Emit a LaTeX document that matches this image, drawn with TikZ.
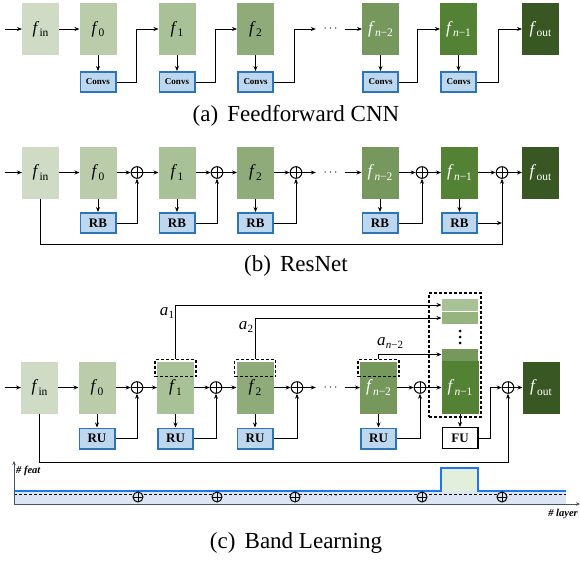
\documentclass[tikz,border=0pt]{standalone}
\usepackage{fontspec}
\setmainfont{Liberation Serif}
\usetikzlibrary{arrows.meta}

\definecolor{gin}{HTML}{CFDBC5}
\definecolor{gzero}{HTML}{BACCAA}
\definecolor{gone}{HTML}{A9C196}
\definecolor{gtwo}{HTML}{8FAB7A}
\definecolor{gmid}{HTML}{96B47D}
\definecolor{gntwo}{HTML}{76985C}
\definecolor{gnone}{HTML}{548235}
\definecolor{gout}{HTML}{385723}
\definecolor{bborder}{HTML}{2E75B6}
\definecolor{bfill}{HTML}{BDD7EE}
\definecolor{bandline}{HTML}{1F75F0}
\definecolor{bandfill}{HTML}{DCE6F2}
\definecolor{bandgreen}{HTML}{E2EFDA}
\definecolor{axiscol}{HTML}{44546A}

% feature-map label f_sub with an upright or mixed subscript
\newcommand\fmap[1]{\textit{f}\kern0.3pt\raisebox{-3.5pt}{\fontsize{11.5}{11.5}\selectfont #1}}
\newcommand\amap[1]{\textit{a}\kern0.3pt\raisebox{-3.5pt}{\fontsize{11}{11}\selectfont #1}}

\tikzset{
  fbox/.style={minimum width=37pt, minimum height=52pt, inner sep=0pt, outer sep=0pt,
    font=\fontsize{17}{17}\selectfont},
  wtext/.style={text=white},
  subbox/.style={draw=bborder, line width=1.6pt, fill=bfill, minimum width=35.4pt,
    minimum height=20.4pt, inner sep=0pt, outer sep=0.8pt},
  fubox/.style={draw=black, line width=1.1pt, fill=white, minimum width=35.9pt,
    minimum height=20.9pt, inner sep=0pt, outer sep=0.55pt,
    font=\fontsize{13}{13}\selectfont\bfseries},
  conn/.style={line width=1pt},
  arr/.style={conn, -{Stealth[length=5pt,width=4pt]}},
  sumnode/.style={circle, draw, line width=1pt, minimum size=11.6pt, inner sep=0pt,
    path picture={\draw[line width=1pt] (path picture bounding box.north) -- (path picture bounding box.south)
      (path picture bounding box.west) -- (path picture bounding box.east);}},
  smallsum/.style={sumnode, minimum size=10pt},
  dotsnode/.style={minimum width=29pt, inner sep=0pt, font=\fontsize{12}{12}\selectfont},
  dashbox/.style={draw, line width=1.1pt, dash pattern=on 3pt off 2pt, inner sep=0pt},
  blk/.style={minimum width=37pt, inner sep=0pt, outer sep=0pt, draw=white, line width=0.7pt},
  caption/.style={font=\fontsize{23}{23}\selectfont},
  axlabel/.style={font=\fontsize{10.5}{10.5}\selectfont\bfseries\itshape},
}

\begin{document}
\begin{tikzpicture}[x=1pt, y=-1pt]
\useasboundingbox (0,0) rectangle (580,560);

% ---------------- (a) feedforward CNN ----------------
\coordinate (ast) at (5,29);
\node[fbox, fill=gin]   (ain)  at (40.5,29)  {\fmap{in}};
\node[fbox, fill=gzero] (a0)   at (98,29)    {\fmap{0}};
\node[fbox, fill=gone]  (a1)   at (177,29)   {\fmap{1}};
\node[fbox, fill=gtwo]  (a2)   at (255.5,29) {\fmap{2}};
\node[dotsnode]         (adots) at (330.5,29) {$\cdots$};
\node[fbox, fill=gntwo, wtext] (an2) at (380.5,29) {\fmap{\textit{n}−2}};
\node[fbox, fill=gnone, wtext] (an1) at (458.5,29) {\fmap{\textit{n}−1}};
\node[fbox, fill=gout, wtext]  (aout) at (540.5,29) {\fmap{out}};
\foreach \n/\x in {0/98, 1/177, 2/255.5, n2/380.5, n1/458.5}
  \node[subbox, font=\fontsize{9}{9}\selectfont\bfseries] (ac\n) at (\x,82) {Convs};

\draw[arr] (ast) -- (ain);
\draw[arr] (ain) -- (a0);
\foreach \n in {0,1,2,n2,n1} \draw[arr] (a\n) -- (ac\n);
\draw[arr] (ac0.east) -- ++(20,0) |- (a1.west);
\draw[arr] (ac1.east) -- ++(20,0) |- (a2.west);
\draw[arr] (ac2.east) -- ++(20,0) |- (adots.west);
\draw[arr] (adots.east) -- (an2.west);
\draw[arr] (acn2.east) -- ++(18,0) |- (an1.west);
\draw[arr] (acn1.east) -- ++(21,0) |- (aout.west);

\node[caption] (capa) at (296,116) {(a)\hspace{0.4em}Feedforward CNN};

% ---------------- (b) ResNet ----------------
\coordinate (bst) at (5,172.5);
\node[fbox, fill=gin]   (bin)  at (40.5,172.5)  {\fmap{in}};
\node[fbox, fill=gzero] (b0)   at (98,172.5)    {\fmap{0}};
\node[fbox, fill=gone]  (b1)   at (177,172.5)   {\fmap{1}};
\node[fbox, fill=gtwo]  (b2)   at (255.5,172.5) {\fmap{2}};
\node[dotsnode]         (bdots) at (330.5,172.5) {$\cdots$};
\node[fbox, fill=gntwo, wtext] (bn2) at (380,172.5) {\fmap{\textit{n}−2}};
\node[fbox, fill=gnone, wtext] (bn1) at (459.5,172.5) {\fmap{\textit{n}−1}};
\node[fbox, fill=gout, wtext]  (bout) at (540.5,172.5) {\fmap{out}};
\foreach \n/\x in {0/98, 1/177, 2/255.5, n2/380, n1/459.5}
  \node[subbox, font=\fontsize{13}{13}\selectfont\bfseries] (br\n) at (\x,223) {RB};
\foreach \n/\x in {0/137, 1/217, 2/296, n2/422, n1/502}
  \node[sumnode] (bs\n) at (\x,172.5) {};
\coordinate (bjoin) at (502,223);
\coordinate (bskip) at (502,244);

\draw[arr] (bst) -- (bin);
\draw[arr] (bin) -- (b0);
\draw[arr] (b0) -- (bs0);  \draw[arr] (bs0) -- (b1);
\draw[arr] (b1) -- (bs1);  \draw[arr] (bs1) -- (b2);
\draw[arr] (b2) -- (bs2);  \draw[arr] (bs2) -- (bdots.west);
\draw[arr] (bdots.east) -- (bn2.west);
\draw[arr] (bn2) -- (bsn2); \draw[arr] (bsn2) -- (bn1);
\draw[arr] (bn1) -- (bsn1); \draw[arr] (bsn1) -- (bout);
\foreach \n in {0,1,2,n2,n1} \draw[arr] (b\n) -- (br\n);
\foreach \n in {0,1,2,n2} \draw[arr] (br\n.east) -| (bs\n.south);
\draw[arr] (brn1.east) -- (bjoin);
\draw[arr] (bin.south) |- (bskip) -- (bsn1.south);

\node[caption] (capb) at (296,266) {(b)\hspace{0.4em}ResNet};

% ---------------- (c) Band Learning ----------------
\coordinate (cst) at (5,387.5);
\node[fbox, fill=gin]   (cin)  at (39.5,387.5)  {\fmap{in}};
\node[fbox, fill=gzero] (c0)   at (97,387.5)    {\fmap{0}};
\node[fbox, fill=gone]  (c1)   at (175.5,387.5) {\fmap{1}};
\node[fbox, fill=gtwo]  (c2)   at (255,387.5)   {\fmap{2}};
\node[dotsnode]         (cdots) at (330.5,387.5) {$\cdots$};
\node[fbox, fill=gntwo, wtext] (cn2) at (378.5,387.5) {\fmap{\textit{n}−2}};
\node[fbox, fill=gout, wtext]  (cout) at (541,387.5) {\fmap{out}};
\foreach \n/\x in {0/97, 1/175.5, 2/255, n2/378.5}
  \node[subbox, font=\fontsize{13}{13}\selectfont\bfseries] (cr\n) at (\x,438.5) {RU};
\foreach \n/\x in {0/137, 1/216, 2/297, n2/420, n1/508}
  \node[sumnode] (cs\n) at (\x,387.5) {};

% band stack of f_{n-1}
\node[blk, fill=gone,  minimum height=13.5pt] (blk1) at (460,305)   {};
\node[blk, fill=gmid,  minimum height=12.5pt] (blk2) at (460,318)   {};
\node[blk, fill=gntwo, minimum height=13pt]   (blk3) at (460,354.5) {};
\node[fbox, fill=gnone, wtext, minimum height=53pt] (cn1) at (460,387.5) {\fmap{\textit{n}−1}};
\foreach \y in {331,337,343} \fill (460,\y) circle (1.5pt);
\node[dashbox, minimum width=52pt, minimum height=124pt] (stack) at (455,355) {};

% dashed bands on top of the feature maps
\node[dashbox, minimum width=41pt, minimum height=17pt] (d1) at ([yshift=-6.5pt]c1.north) {};
\node[dashbox, minimum width=41pt, minimum height=17pt] (d2) at ([yshift=-6.5pt]c2.north) {};
\node[dashbox, minimum width=41pt, minimum height=17pt] (dn2) at ([yshift=-6.5pt]cn2.north) {};

\draw[arr] (d1.north) |- (blk1.west);
\draw[arr] (d2.north) |- (blk2.west);
\draw[arr] (dn2.north) |- (blk3.west);
\node[font=\fontsize{17}{17}\selectfont] (la1) at (167,313)  {\amap{1}};
\node[font=\fontsize{17}{17}\selectfont] (la2) at (246,327)  {\amap{2}};
\node[font=\fontsize{17}{17}\selectfont] (lan) at (390,343)  {\amap{\textit{n}−2}};

\node[fubox] (fu) at (460,438) {FU};
\coordinate (cskip) at (508,462);

\draw[arr] (cst) -- (cin);
\draw[arr] (cin) -- (c0);
\draw[arr] (c0) -- (cs0);  \draw[arr] (cs0) -- (c1);
\draw[arr] (c1) -- (cs1);  \draw[arr] (cs1) -- (c2);
\draw[arr] (c2) -- (cs2);  \draw[arr] (cs2) -- (cdots.west);
\draw[arr] (cdots.east) -- (cn2.west);
\draw[arr] (cn2) -- (csn2); \draw[arr] (csn2) -- (cn1);
\draw[arr] (csn1) -- (cout);
\foreach \n in {0,1,2,n2} \draw[arr] (c\n) -- (cr\n);
\foreach \n in {0,1,2,n2} \draw[arr] (cr\n.east) -| (cs\n.south);
\draw[arr] (cn1) -- (fu);
\draw[arr] (fu.east) -- ++(12,0) |- (csn1.west);
\draw[arr] (cin.south) |- (cskip) -- (csn1.south);

% band profile: number of features per layer
\fill[bandfill] (14,491) rectangle (566,504);
\fill[bandgreen] (441,468) rectangle (478,491);
\draw[line width=0.8pt, dash pattern=on 3pt off 2pt] (14,494) -- (566,494);
\draw[bandline, line width=1.6pt] (14,491) -- (441,491) -- (441,468) -- (478,468) -- (478,491) -- (566,491);
\draw[axiscol, line width=1pt, -{Stealth[length=4pt,width=3.5pt]}] (14,504) -- (14,461);
\draw[axiscol, line width=1pt, -{Stealth[length=4pt,width=3.5pt]}] (14,504) -- (580,504);
\foreach \n/\x in {1/138, 2/217, 3/295, 4/422, 5/502}
  \node[smallsum, fill=bandfill] (p\n) at (\x,497) {};
\node[font=\fontsize{9}{9}\selectfont, inner sep=0pt] (pdots) at (332,496) {$\cdots$};
\node[axlabel, anchor=west, inner sep=0pt] (featlbl) at (16,471) {\# feat};
\node[axlabel, anchor=east, inner sep=0pt] (layerlbl) at (578,514) {\# layer};

\node[caption] (capc) at (296,543) {(c)\hspace{0.4em}Band Learning};
\end{tikzpicture}
\end{document}
